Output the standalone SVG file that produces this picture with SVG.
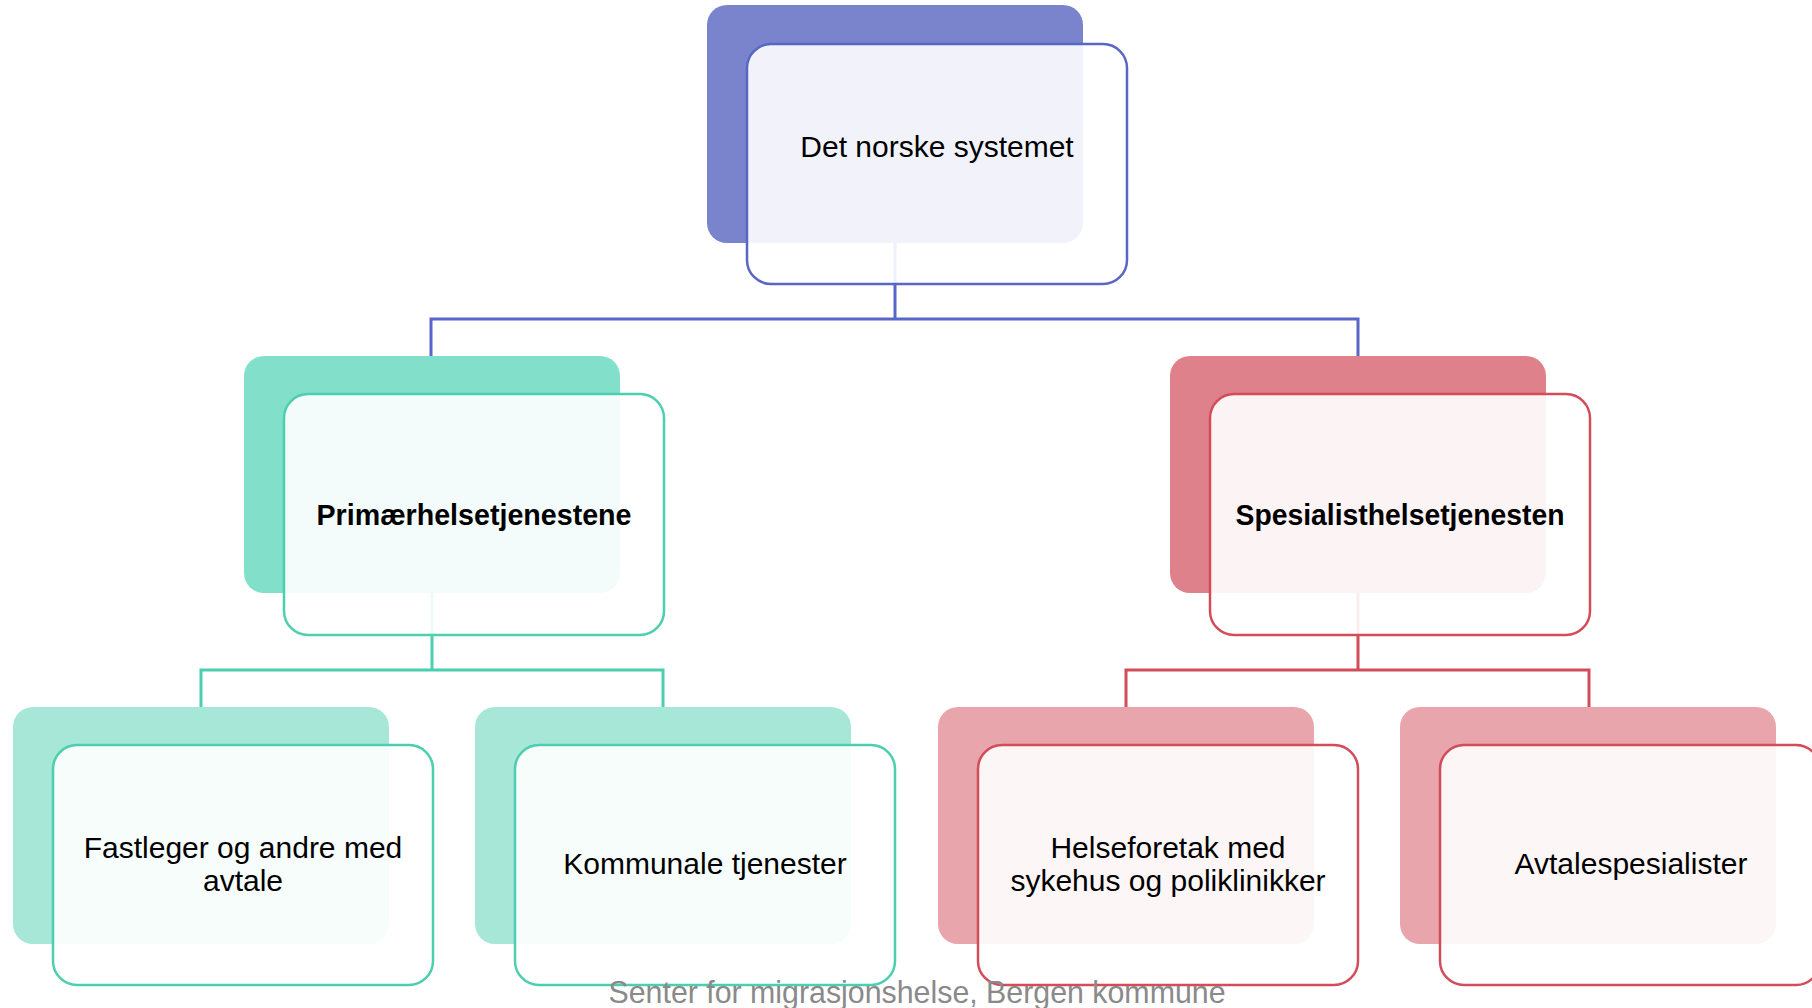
<svg xmlns="http://www.w3.org/2000/svg" width="1812" height="1008" viewBox="0 0 1812 1008">
<style>
  .front { fill: #ffffff; fill-opacity: 0.9; stroke-width: 2.5; }
  .txt { font-family: "Liberation Sans", Arial, sans-serif; font-size: 30px; fill: #000000; text-anchor: middle; }
  .bold { font-weight: bold; font-size: 29px; }
  .conn { fill: none; stroke-width: 3; }
  .p { stroke: #5866c6; }
  .g { stroke: #4ccfaf; }
  .r { stroke: #d24c5a; }
</style>
<rect width="1812" height="1008" fill="#ffffff"/>
<g id="connectors">
  <path class="conn p" d="M895 243 V319 M431 356 V319 H1358 V356"/>
  <path class="conn g" d="M432 593 V670 M201 707 V670 H663 V707"/>
  <path class="conn r" d="M1358 593 V670 M1126 707 V670 H1589 V707"/>
</g>
<g id="node-top">
  <rect x="707" y="5" width="376" height="238" rx="20" fill="#7984cc"/>
  <rect class="front p" x="747" y="44" width="380" height="240" rx="24"/>
  <text class="txt" x="937" y="157">Det norske systemet</text>
</g>
<g id="node-primaer">
  <rect x="244" y="356" width="376" height="237" rx="20" fill="#82dfc9"/>
  <rect class="front g" x="284" y="394" width="380" height="241" rx="24"/>
  <text class="txt bold" x="474" y="525" textLength="315" lengthAdjust="spacingAndGlyphs">Primærhelsetjenestene</text>
</g>
<g id="node-spesialist">
  <rect x="1170" y="356" width="376" height="237" rx="20" fill="#de818a"/>
  <rect class="front r" x="1210" y="394" width="380" height="241" rx="24"/>
  <text class="txt bold" x="1400" y="525" textLength="329" lengthAdjust="spacingAndGlyphs">Spesialisthelsetjenesten</text>
</g>
<g id="node-fastleger">
  <rect x="13" y="707" width="376" height="237" rx="20" fill="#a6e7d7"/>
  <rect class="front g" x="53" y="745" width="380" height="240" rx="24"/>
  <text class="txt" x="243" y="858">Fastleger og andre med</text>
  <text class="txt" x="243" y="891">avtale</text>
</g>
<g id="node-kommunale">
  <rect x="475" y="707" width="376" height="237" rx="20" fill="#a6e7d7"/>
  <rect class="front g" x="515" y="745" width="380" height="240" rx="24"/>
  <text class="txt" x="705" y="874">Kommunale tjenester</text>
</g>
<g id="node-helseforetak">
  <rect x="938" y="707" width="376" height="237" rx="20" fill="#e8a5ab"/>
  <rect class="front r" x="978" y="745" width="380" height="240" rx="24"/>
  <text class="txt" x="1168" y="858">Helseforetak med</text>
  <text class="txt" x="1168" y="891">sykehus og poliklinikker</text>
</g>
<g id="node-avtalespesialister">
  <rect x="1400" y="707" width="376" height="237" rx="20" fill="#e8a5ab"/>
  <rect class="front r" x="1440" y="745" width="380" height="240" rx="24"/>
  <text class="txt" x="1631" y="874">Avtalespesialister</text>
</g>
<text x="917" y="1003" font-family="Liberation Sans, Arial, sans-serif" font-size="32" fill="#8a8a8a" text-anchor="middle" textLength="617" lengthAdjust="spacingAndGlyphs">Senter for migrasjonshelse, Bergen kommune</text>
</svg>
